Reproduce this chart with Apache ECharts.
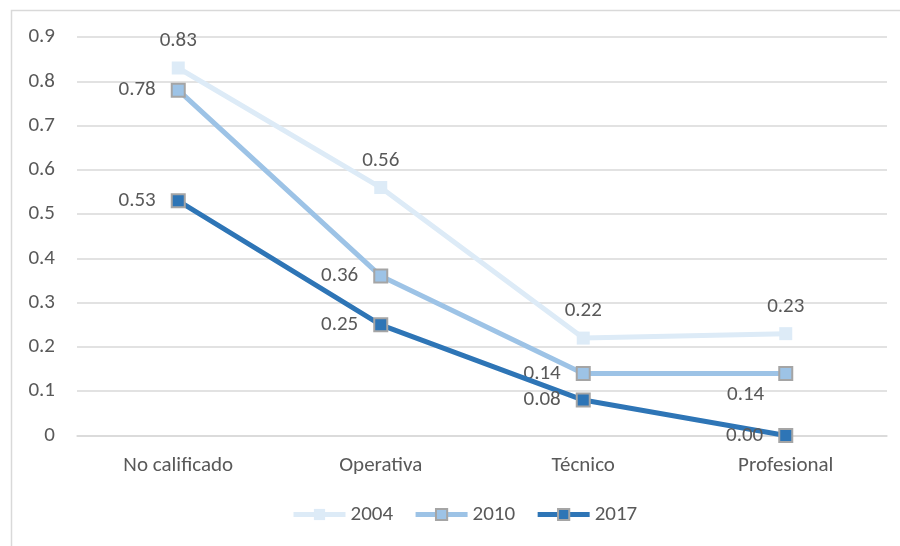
<!DOCTYPE html>
<html>
<head>
<meta charset="utf-8">
<script src="https://cdn.jsdelivr.net/npm/echarts@6/dist/echarts.min.js"></script>
<style>
  html, body { margin: 0; padding: 0; background: #fff; }
  #chart { width: 900px; height: 546px; }
</style>
</head>
<body>
<div id="chart"></div>
<script>
// Occupational categories and yearly values
const categories = ['No calificado', 'Operativa', 'Técnico', 'Profesional'];
const years = ['2004', '2010', '2017'];
const values2004 = [0.83, 0.56, 0.22, 0.23];
const values2010 = [0.78, 0.36, 0.14, 0.14];
const values2017 = [0.53, 0.25, 0.08, 0.00];
const yTicks = { min: 0, max: 0.9, step: 0.1 };

const FONT = 'Carlito, "Open Sans", sans-serif';
const FS = 21;
const TEXT = '#595959';
const GRID = '#D9D9D9';

const fmt = p => p.value.toFixed(2);
const labelBase = { show: true, color: TEXT, fontSize: FS, fontFamily: FONT, formatter: fmt };

// per-point label placement for the 2010 line
const data2010 = values2010.map((v, i) => {
  if (i === 3) {
    return { value: v, label: { position: 'left', distance: 14, offset: [0, 21] } };
  }
  return v;
});

const chart = echarts.init(document.getElementById('chart'), null, { renderer: 'canvas' });
chart.setOption({
  animation: false,
  backgroundColor: '#fff',
  graphic: [{
    type: 'rect',
    shape: { x: 11.5, y: 10.5, width: 900, height: 546 },
    style: { fill: 'none', stroke: GRID, lineWidth: 1.5 },
    silent: true
  }],
  grid: { left: 77, right: 13, top: 37, bottom: 110.5 },
  legend: {
    bottom: 16,
    left: 286,
    itemWidth: 52,
    itemHeight: 14,
    itemGap: 20,
    lineStyle: { width: 5 },
    textStyle: { color: TEXT, fontSize: FS, fontFamily: FONT },
    data: years
  },
  xAxis: {
    type: 'category',
    data: categories,
    boundaryGap: true,
    axisLine: { show: true, lineStyle: { color: GRID, width: 1.5 } },
    axisTick: { show: false },
    axisLabel: { color: TEXT, fontSize: FS, fontFamily: FONT, margin: 20 }
  },
  yAxis: {
    type: 'value',
    min: yTicks.min,
    max: yTicks.max,
    interval: yTicks.step,
    axisLine: { show: false },
    axisTick: { show: false },
    splitLine: { lineStyle: { color: GRID, width: 1.5 } },
    axisLabel: {
      color: TEXT, fontSize: FS, fontFamily: FONT, margin: 22,
      formatter: v => (v === 0 ? '0' : v.toFixed(1))
    }
  },
  series: [
    {
      name: '2004', type: 'line', data: values2004,
      symbol: 'rect', symbolSize: 13,
      lineStyle: { color: '#DDEBF7', width: 5 },
      itemStyle: { color: '#DDEBF7', borderWidth: 0 },
      label: Object.assign({}, labelBase, { position: 'top', distance: 10 }),
      z: 2
    },
    {
      name: '2010', type: 'line', data: data2010,
      symbol: 'rect', symbolSize: 13,
      lineStyle: { color: '#9DC3E6', width: 5 },
      itemStyle: { color: '#9DC3E6', borderColor: '#A5A5A5', borderWidth: 2 },
      label: Object.assign({}, labelBase, { position: 'left', distance: 15 }),
      z: 3
    },
    {
      name: '2017', type: 'line', data: values2017,
      symbol: 'rect', symbolSize: 13,
      lineStyle: { color: '#2E75B6', width: 5 },
      itemStyle: { color: '#2E75B6', borderColor: '#A5A5A5', borderWidth: 2 },
      label: Object.assign({}, labelBase, { position: 'left', distance: 15 }),
      z: 4
    }
  ]
});
</script>
</body>
</html>
